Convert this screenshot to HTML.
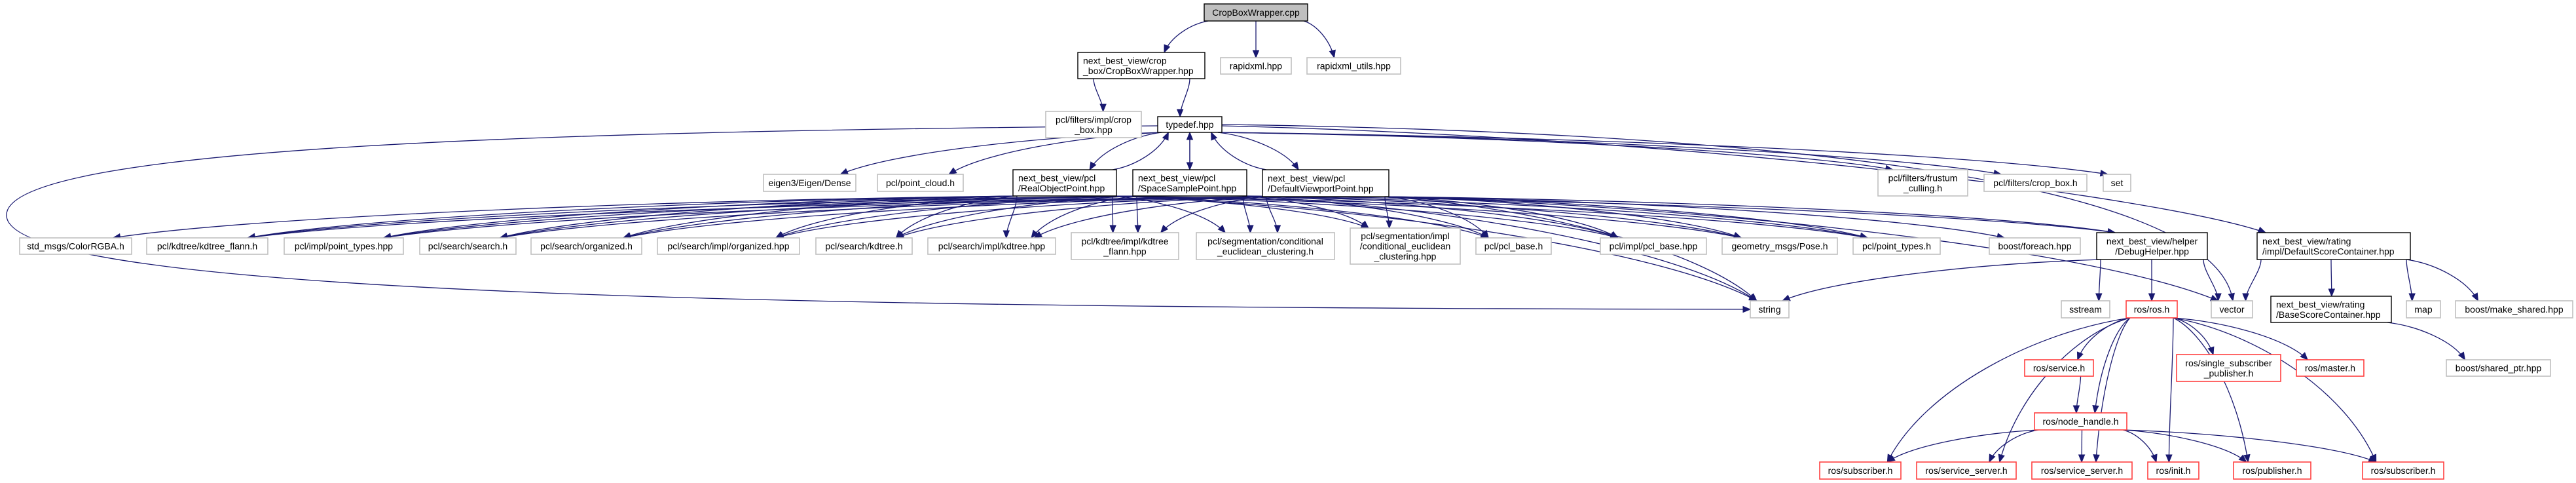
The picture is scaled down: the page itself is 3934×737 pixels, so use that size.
<!DOCTYPE html>
<html><head><meta charset="utf-8"><style>
html,body{margin:0;padding:0;background:#fff;width:3934px;height:737px;overflow:hidden}
svg{display:block}
text{font-family:"Liberation Sans","DejaVu Sans",sans-serif;font-size:14px;fill:#000}
</style></head><body>
<svg id="g" width="3934" height="737" xmlns="http://www.w3.org/2000/svg">
<g id="edges" stroke="#191970" stroke-width="1.3" fill="none"></g>
<g id="heads" fill="#191970" stroke="#191970" stroke-width="1"></g>
<g id="nodes"></g>
</svg>
<script>
var N={};
function n(id,x1,y1,x2,y2,lab,st){N[id]={x1:x1,y1:y1,x2:x2,y2:y2,lab:lab,st:st,cx:(x1+x2)/2,cy:(y1+y2)/2};}
n('cpp',1839,6,1997,32,['CropBoxWrapper.cpp'],'c');
n('cbw',1646,80,1840,120,['next_best_view/crop','_box/CropBoxWrapper.hpp'],'k');
n('rx',1864,88,1972,113,['rapidxml.hpp'],'g');
n('rxu',1996,88,2139,113,['rapidxml_utils.hpp'],'g');
n('cbh',1597,170,1743,210,['pcl/filters/impl/crop','_box.hpp'],'g');
n('td',1768,178,1866,202,['typedef.hpp'],'k');
n('eig',1166,266,1307,292,['eigen3/Eigen/Dense'],'g');
n('pc',1340,266,1471,292,['pcl/point_cloud.h'],'g');
n('rop',1547,259,1705,299,['next_best_view/pcl','/RealObjectPoint.hpp'],'k');
n('ssp',1730,259,1904,299,['next_best_view/pcl','/SpaceSamplePoint.hpp'],'k');
n('dvp',1928,259,2121,300,['next_best_view/pcl','/DefaultViewportPoint.hpp'],'k');
n('fc',2868,259,3005,299,['pcl/filters/frustum','_culling.h'],'g');
n('cbx',3030,266,3187,292,['pcl/filters/crop_box.h'],'g');
n('set',3212,266,3254,292,['set'],'g');
n('rgba',30,363,201,388,['std_msgs/ColorRGBA.h'],'g');
n('kf',224,363,409,388,['pcl/kdtree/kdtree_flann.h'],'g');
n('ipt',434,363,616,388,['pcl/impl/point_types.hpp'],'g');
n('ss',641,363,788,388,['pcl/search/search.h'],'g');
n('org',811,363,980,388,['pcl/search/organized.h'],'g');
n('iorg',1004,363,1221,388,['pcl/search/impl/organized.hpp'],'g');
n('kd',1246,363,1393,388,['pcl/search/kdtree.h'],'g');
n('ikd',1417,363,1612,388,['pcl/search/impl/kdtree.hpp'],'g');
n('ikf',1636,355,1800,396,['pcl/kdtree/impl/kdtree','_flann.hpp'],'g');
n('ceh',1827,355,2038,396,['pcl/segmentation/conditional','_euclidean_clustering.h'],'g');
n('cei',2062,348,2230,403,['pcl/segmentation/impl','/conditional_euclidean','_clustering.hpp'],'g');
n('pb',2254,363,2369,388,['pcl/pcl_base.h'],'g');
n('ipb',2444,363,2606,388,['pcl/impl/pcl_base.hpp'],'g');
n('pose',2630,363,2806,388,['geometry_msgs/Pose.h'],'g');
n('pt',2830,363,2963,388,['pcl/point_types.h'],'g');
n('fe',3038,363,3177,388,['boost/foreach.hpp'],'g');
n('dh',3202,355,3371,396,['next_best_view/helper','/DebugHelper.hpp'],'kc');
n('dsc',3447,355,3681,396,['next_best_view/rating','/impl/DefaultScoreContainer.hpp'],'k');
n('str',2673,459,2732,485,['string'],'g');
n('sst',3148,459,3222,485,['sstream'],'g');
n('ros',3247,459,3325,485,['ros/ros.h'],'r');
n('vec',3377,459,3440,485,['vector'],'g');
n('bsc',3468,452,3652,492,['next_best_view/rating','/BaseScoreContainer.hpp'],'k');
n('map',3675,459,3727,485,['map'],'g');
n('msh',3750,459,3929,485,['boost/make_shared.hpp'],'g');
n('srv',3092,549,3197,574,['ros/service.h'],'r');
n('ssb',3324,541,3483,582,['ros/single_subscriber','_publisher.h'],'r');
n('mst',3507,549,3610,574,['ros/master.h'],'r');
n('sp',3736,549,3895,574,['boost/shared_ptr.hpp'],'g');
n('nh',3107,630,3248,656,['ros/node_handle.h'],'r');
n('subL',2779,705,2903,731,['ros/subscriber.h'],'r');
n('sv1',2927,705,3079,731,['ros/service_server.h'],'r');
n('sv2',3103,705,3256,731,['ros/service_server.h'],'r');
n('ini',3280,705,3358,731,['ros/init.h'],'r');
n('pub',3411,705,3529,731,['ros/publisher.h'],'r');
n('subR',3608,705,3732,731,['ros/subscriber.h'],'r');

var SV='http://www.w3.org/2000/svg';
var E=document.getElementById('edges'),H=document.getElementById('heads'),ND=document.getElementById('nodes');
function el(t,a,p){var e=document.createElementNS(SV,t);for(var k in a)e.setAttribute(k,a[k]);p.appendChild(e);return e;}
function cl(v,a,b){return Math.max(a,Math.min(b,v));}
function head(ex,ey,dx,dy){var L=Math.sqrt(dx*dx+dy*dy)||1;dx/=L;dy/=L;var bx=ex-dx*11,by=ey-dy*11;
 el('polygon',{points:ex+','+ey+' '+(bx-dy*4.5)+','+(by+dx*4.5)+' '+(bx+dy*4.5)+','+(by-dx*4.5)},H);}
function ed(a,b){a=N[a];b=N[b];var sx,sy,ex,ey;
 if(b.y1>=a.y2-2){sx=cl(b.cx,a.x1+6,a.x2-6);sy=a.y2;ey=b.y1;}
 else{sx=cl(b.cx,a.x1+6,a.x2-6);sy=a.y1;ey=b.y2;}
 var w=(b.x2-b.x1);ex=b.cx+cl((a.cx-b.cx)*0.2,-w/3,w/3);
 var dy=ey-sy,c1x=sx+(ex-sx)*0.4,c1y=sy+dy*0.1,c2x=ex-(ex-sx)*0.15,c2y=ey-dy*0.5;
 if(Math.abs(ex-sx)<40){c1x=sx;c1y=sy+dy*0.3;c2x=ex;c2y=ey-dy*0.3;}
 el('path',{d:'M'+sx+','+sy+' C'+c1x+','+c1y+' '+c2x+','+c2y+' '+ex+','+ey},E);
 head(ex,ey,ex-c2x,ey-c2y);}
function cp(d,ex,ey,dx,dy){el('path',{d:d},E);head(ex,ey,dx,dy);}

['cbw','rx','rxu'].forEach(function(t){ed('cpp',t)});
ed('cbw','cbh');ed('cbw','td');
['eig','pc','rop','ssp','dvp','fc','cbx','set'].forEach(function(t){ed('td',t)});
['rop','ssp','dvp'].forEach(function(s){ed(s,'td')});
cp('M1866,190 C2600,200 3380,260 3410,459',3410,459,0.2,1);
cp('M1866,192 C2600,210 3300,300 3460,355',3460,355,1,0.4);
cp('M1768,192 C900,200 0,220 10,330 C20,450 1200,470 2673,472',2673,472,1,0);
var low=['kf','ipt','ss','org','iorg','kd','ikd','ikf','ceh','cei','pb','ipb','pose','pt','str'];
['rop','ssp','dvp'].forEach(function(s){low.forEach(function(t){ed(s,t)})});
ed('rop','rgba');ed('dvp','fe');ed('dvp','dh');ed('ssp','dh');ed('dvp','vec');
['str','sst','ros','vec'].forEach(function(t){ed('dh',t)});
['vec','bsc','map','msh'].forEach(function(t){ed('dsc',t)});
ed('bsc','sp');
['srv','ssb','mst','nh','subL','sv1','sv2','ini','pub','subR'].forEach(function(t){ed('ros',t)});
ed('srv','nh');
['subL','sv1','sv2','ini','pub','subR'].forEach(function(t){ed('nh',t)});

for(var id in N){var o=N[id];var st=o.st;
 var stroke=st=='g'?'#bfbfbf':(st=='r'?'#ff4040':'#000');
 var fill=st=='c'?'#bfbfbf':'#fff';
 el('rect',{x:o.x1,y:o.y1,width:o.x2-o.x1,height:o.y2-o.y1,fill:fill,stroke:stroke,'stroke-width':st=='g'||st=='r'?1.6:1.4},ND);
 var L=o.lab.length,lh=15.5,y0=o.cy-(L-1)*lh/2+5;
 var left=(st=='k')&&L>1;
 for(var i=0;i<L;i++){var t=el('text',{x:left?o.x1+8:o.cx,y:y0+i*lh,'text-anchor':left?'start':'middle'},ND);t.textContent=o.lab[i];}
}
</script>
</body></html>
